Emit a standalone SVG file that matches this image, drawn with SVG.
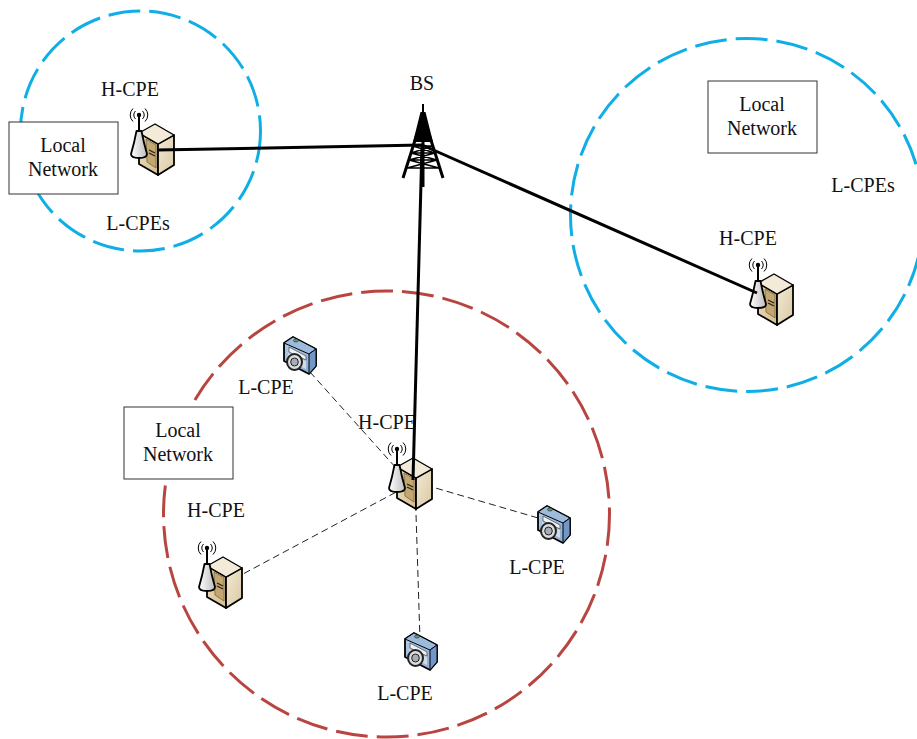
<svg xmlns="http://www.w3.org/2000/svg" width="917" height="739" viewBox="0 0 917 739">
<style>
text{font-family:"Liberation Serif","Times New Roman",serif;font-size:20px;fill:#111;text-anchor:middle}
.ring{fill:none;stroke-width:3;stroke-dasharray:32 9}
.blue{stroke:#0FAEE6}
.red{stroke:#B8453F}
.box{fill:#fff;stroke:#333;stroke-width:1}
.main{stroke:#000;stroke-width:3;fill:none}
.dash{stroke:#222;stroke-width:1;stroke-dasharray:7 4;fill:none}
.ol{stroke:#000;stroke-width:1.8;stroke-linejoin:round}
.thin{stroke:#000;stroke-width:1;fill:none}
</style>
<defs>
<linearGradient id="front" x1="0" y1="0" x2="1" y2="0"><stop offset="0" stop-color="#e6d6b2"/><stop offset="1" stop-color="#d4bd8f"/></linearGradient>
<linearGradient id="side" x1="0" y1="0" x2="1" y2="1"><stop offset="0" stop-color="#f3ead6"/><stop offset="1" stop-color="#d9c8a2"/></linearGradient>
<linearGradient id="ant" x1="0" y1="0" x2="1" y2="0"><stop offset="0" stop-color="#fff"/><stop offset="1" stop-color="#bdbdbd"/></linearGradient>
<linearGradient id="cam" x1="0" y1="0" x2="1" y2="1"><stop offset="0" stop-color="#b6cde6"/><stop offset="1" stop-color="#86a8d0"/></linearGradient>
<g id="hcpe">
<path class="ol" fill="url(#front)" d="M17 31L36 42V73L17 62Z"/>
<path class="ol" fill="url(#side)" d="M36 42L52 33V63L36 73Z"/>
<path fill="#f3ebd8" stroke="#000" stroke-width="1.400" stroke-linejoin="round" d="M33 22L52 33L36 42L17 31Z"/>
<path d="M24 37L34 43V66L25 60Z" fill="#c4a671" stroke="#6b5a3a" stroke-width=".7"/>
<path d="M27 48l6 3M27 51l6 3" stroke="#222" stroke-width="1.300"/>
<path d="M17 13V29" stroke="#000" stroke-width="2"/>
<circle cx="17" cy="13" r="2.200" fill="#000"/>
<path class="thin" d="M13.500 9a5.500 5.500 0 0 0 0 8M20.500 9a5.500 5.500 0 0 1 0 8M11 6.500a9 9 0 0 0 0 13M23 6.500a9 9 0 0 1 0 13"/>
<path class="ol" fill="url(#ant)" d="M14.500 29H19.500Q21.500 40 25 52Q25 56 17 56Q9 56 9 52Q12.500 40 14.500 29Z"/>
</g>
<g id="camera">
<path class="ol" fill="url(#cam)" d="M8 12L17 6L40 18V35L33 43L8 30Z"/>
<path d="M8 12L17 6L40 18L33 23Z" fill="#9dbbdc" stroke="#000" stroke-width="1"/>
<path d="M33 23L40 18V35L33 43Z" fill="#7097c6" stroke="#000" stroke-width="1"/>
<path d="M13 16L30 25V29L13 21Z" fill="#eef2f6" stroke="#444" stroke-width=".7"/>
<path d="M12 22L30 30V38L12 29Z" fill="#cfdbe8" stroke="none"/>
<ellipse cx="18.500" cy="31" rx="7.500" ry="8" fill="#dcdcdc" stroke="#222" stroke-width="2"/>
<ellipse cx="18.500" cy="31" rx="3.800" ry="4" fill="#a7adb8" stroke="#222" stroke-width="1"/>
<ellipse cx="20" cy="9.500" rx="2.500" ry="1.500" fill="#6a9a6a" stroke="#222" stroke-width=".6"/>
</g>
</defs>
<g id="ring-left"><circle class="ring blue" cx="140.500" cy="131" r="120"/></g>
<g id="ring-right"><circle class="ring blue" cx="747" cy="215" r="176.500"/></g>
<g id="ring-bottom"><circle class="ring red" cx="386.500" cy="514" r="223"/></g>
<g id="network-left"><rect class="box" x="9" y="122" width="109" height="72"/><text x="63" y="152">Local</text><text x="63" y="176">Network</text></g>
<g id="network-right"><rect class="box" x="708" y="81" width="109" height="72"/><text x="762" y="111">Local</text><text x="762" y="135">Network</text></g>
<g id="network-bottom"><rect class="box" x="124" y="407" width="109" height="72"/><text x="178" y="437">Local</text><text x="178" y="461">Network</text></g>
<g id="bs">
<g stroke="#000" fill="none">
<path stroke-width="2" d="M423 104V122"/>
<path fill="#000" stroke="none" d="M420.500 112H425.500L433 142H413Z"/>
<path stroke-width="3" d="M417 134L403 178M429 134L443 178"/>
<path stroke-width="3" d="M423 138V187"/>
<path stroke-width="1.500" d="M413 146H433M411 153H435M409 160H437M407 168H439M413 146L435 153M433 146L411 153M411 153L437 160M435 153L409 160M409 160L439 168M437 160L407 168"/>
</g>
<text x="422" y="90">BS</text>
</g>
<g id="connectors">
<path class="dash" d="M310 372L405 478"/>
<path class="dash" d="M415 482L228 582"/>
<path class="dash" d="M415 482L545 520"/>
<path class="dash" d="M415 482L420 640"/>
</g>
<g id="hcpe-left"><use href="#hcpe" x="122" y="102"/><text x="130" y="96">H-CPE</text></g>
<g id="hcpe-right"><use href="#hcpe" x="741" y="252"/><text x="748" y="245">H-CPE</text></g>
<g id="hcpe-centre"><use href="#hcpe" x="380" y="436"/><text x="387" y="429">H-CPE</text></g>
<g id="hcpe-lower"><use href="#hcpe" x="190" y="535"/><text x="216" y="517">H-CPE</text></g>
<g id="lcpe-a"><use href="#camera" x="276" y="331"/><text x="266" y="394">L-CPE</text></g>
<g id="lcpe-b"><use href="#camera" x="530" y="500"/><text x="537" y="574">L-CPE</text></g>
<g id="lcpe-c"><use href="#camera" x="397" y="627"/><text x="405" y="700">L-CPE</text></g>
<g id="labels"><text x="138" y="230">L-CPEs</text><text x="863" y="192">L-CPEs</text></g>
<g id="links">
<path class="main" d="M157 150L422 145"/>
<path class="main" d="M422 145L757 293"/>
<path class="main" d="M422 145L413 480"/>
</g>
</svg>
